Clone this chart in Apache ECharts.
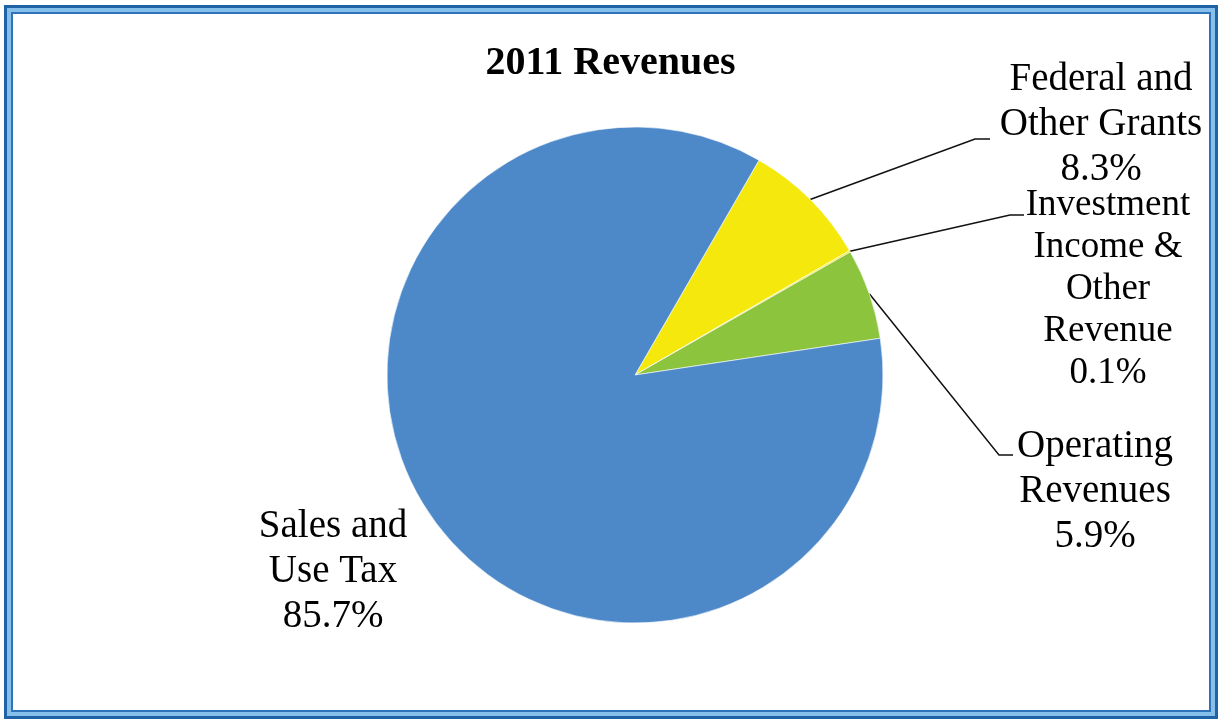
<!DOCTYPE html>
<html>
<head>
<meta charset="utf-8">
<script src="https://cdn.jsdelivr.net/npm/echarts@6/dist/echarts.min.js"></script>
<style>
  html, body { margin: 0; padding: 0; background: #fff; }
  #chart { position: absolute; left: 0; top: 0; width: 1221px; height: 721px; }
  #frame { position: absolute; left: 4px; top: 5px; width: 1214px; height: 714px; pointer-events: none;
    box-shadow: inset 0 0 0 3px #1f63a6, inset 0 0 0 7px #86c0ea, inset 0 0 0 9px #2f74b8; }
</style>
</head>
<body>
<div id="chart"></div>
<div id="frame"></div>
<script>
const titleText = '2011 Revenues';
const categories = ['Federal and\nOther Grants', 'Investment\nIncome &\nOther\nRevenue', 'Operating\nRevenues', 'Sales and\nUse Tax'];
const values = [8.3, 0.1, 5.9, 85.7];
const colors = ['#f4e80c', '#f4e80c', '#8cc43e', '#4d88c8'];

// label anchor centres (layout only)
const labelCentres = [[1101, 125], [1108, 289], [1095, 492], [333, 572]];
const elbowPoints = [[[975, 139], [990, 139]], [[1010, 215], [1024, 215]], [[999, 455], [1013, 455]], null];

const chart = echarts.init(document.getElementById('chart'));
const data = categories.map((c, i) => ({
  name: c,
  value: values[i],
  itemStyle: { color: colors[i] },
  label: { fontSize: i === 1 ? 37 : 39, lineHeight: i === 1 ? 42 : 45 },
  labelLine: { show: i !== 3 }
}));

chart.setOption({
  animation: false,
  title: {
    text: titleText,
    left: 'center',
    top: 39,
    textStyle: { fontFamily: 'Liberation Serif', fontWeight: 'bold', fontSize: 40, color: '#000' }
  },
  series: [{
    type: 'pie',
    center: [635, 375],
    radius: 248,
    startAngle: 60,
    clockwise: true,
    avoidLabelOverlap: false,
    itemStyle: { borderColor: '#ffffff', borderWidth: 0.6 },
    label: {
      show: true,
      position: 'outside',
      fontFamily: 'Liberation Serif',
      color: '#000',
      align: 'center',
      formatter: p => p.name + '\n' + p.value.toFixed(1) + '%'
    },
    labelLine: { show: true, length: 20, length2: 20, lineStyle: { color: '#111', width: 1.5 } },
    labelLayout: function (params) {
      const i = params.dataIndex;
      const c = labelCentres[i];
      const res = {
        x: c[0],
        y: c[1],
        align: 'center',
        verticalAlign: 'middle'
      };
      if (elbowPoints[i] && params.labelLinePoints) {
        const start = params.labelLinePoints[0];
        res.labelLinePoints = [start, elbowPoints[i][0], elbowPoints[i][1]];
      }
      return res;
    },
    data: data
  }]
});
</script>
</body>
</html>
